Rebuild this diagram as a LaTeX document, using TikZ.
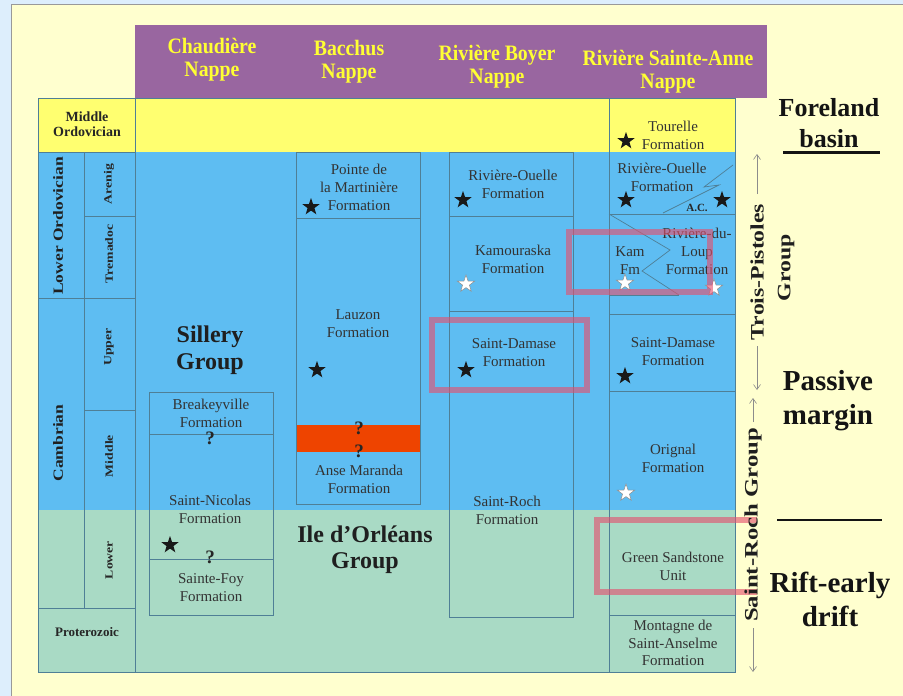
\documentclass[tikz,border=0pt]{standalone}
\usepackage{fontspec}
\setmainfont{Liberation Serif}
\newfontfamily\hdrfont[FakeStretch=0.9]{Liberation Serif}
\usetikzlibrary{shapes.geometric,arrows.meta}
\definecolor{frameblue}{HTML}{DDEEFC}
\definecolor{bgyellow}{HTML}{FFFFCF}
\definecolor{purp}{HTML}{9966A0}
\definecolor{hdrtext}{HTML}{FFFF33}
\definecolor{rowyellow}{HTML}{FFFF70}
\definecolor{blu}{HTML}{5EBDF2}
\definecolor{grn}{HTML}{A9DAC5}
\definecolor{linec}{HTML}{4F7F96}
\definecolor{redband}{HTML}{EE4400}
\definecolor{hlc}{HTML}{E4506E}
\tikzset{
 fm/.style={font=\fontsize{15}{18}\selectfont, text=black!80, align=center, inner sep=0pt},
 grp/.style={font=\bfseries\fontsize{24}{27}\selectfont, text=black!88, align=center, inner sep=0pt},
 hdr/.style={font=\hdrfont\bfseries\fontsize{22}{23}\selectfont, text=hdrtext, align=center, inner sep=0pt},
 big/.style={font=\bfseries\fontsize{29}{34}\selectfont, text=black!92, align=center, inner sep=0pt},
 blackstar/.style={star, star points=5, star point ratio=2.5, fill=black!90, minimum size=18pt, inner sep=0pt},
 whitestar/.style={star, star points=5, star point ratio=2.5, fill=white, draw=black!45, line width=0.5pt, minimum size=18pt, inner sep=0pt},
 qm/.style={font=\bfseries\fontsize{19}{19}\selectfont, text=black!85, inner sep=0pt},
 tl/.style={draw=linec, line width=0.7pt},
 hl/.style={draw=hlc, draw opacity=0.62, line width=6.5pt},
 rotsmall/.style={rotate=90, inner sep=0pt, font=\bfseries\fontsize{11}{11}\selectfont, text=black!85},
 rotmid/.style={rotate=90, inner sep=0pt, font=\bfseries\fontsize{14}{14}\selectfont, text=black!88},
 rotbig/.style={rotate=90, inner sep=0pt, font=\bfseries\fontsize{19}{19}\selectfont, text=black!88},
 garrow/.style={draw=black!45, line width=0.6pt, -{Straight Barb[length=5pt,width=7pt]}},
}
\begin{document}
\begin{tikzpicture}[x=1pt,y=-1pt]
\useasboundingbox (0,0) rectangle (903,696);
% background
\fill[frameblue] (0,0) rectangle (903,696);
\fill[bgyellow] (11,4) rectangle (903,696);
\draw[black!40, line width=0.8pt] (11,696) -- (11,4) -- (903,4);

% header
\fill[purp] (135,25) rectangle (767,98);
\node[hdr] (h1) at (212,60) {Chaudière\\Nappe};
\node[hdr] (h2) at (349,62) {Bacchus\\Nappe};
\node[hdr] (h3) at (497,67) {Rivière Boyer\\Nappe};
\node[hdr] (h4) at (668,72) {Rivière Sainte-Anne\\Nappe};

% table fills
\fill[rowyellow] (38,98) rectangle (735,152);
\fill[blu] (38,152) rectangle (735,510);
\fill[grn] (38,510) rectangle (735,672);
\fill[redband] (296,425) rectangle (420,452);

% table lines
\draw[tl] (38,98) rectangle (735,672);
\draw[tl] (135,98) -- (135,672);
\draw[tl] (84,152) -- (84,608);
\draw[tl] (38,152) -- (135,152);
\draw[tl] (84,216) -- (135,216);
\draw[tl] (38,298) -- (135,298);
\draw[tl] (84,410) -- (135,410);
\draw[tl] (38,608) -- (135,608);
% Chaudiere boxes
\draw[tl] (149,392) rectangle (273,615);
\draw[tl] (149,434) -- (273,434);
\draw[tl] (149,559) -- (273,559);
% Bacchus boxes
\draw[tl] (296,152) rectangle (420,504);
\draw[tl] (296,218) -- (420,218);
% Boyer boxes
\draw[tl] (449,152) rectangle (573,617);
\draw[tl] (449,216) -- (573,216);
\draw[tl] (449,311) -- (573,311);
% Sainte-Anne column
\draw[tl] (609,98) -- (609,672);
\draw[tl] (609,214) -- (735,214);
\draw[tl] (609,314) -- (735,314);
\draw[tl] (609,391) -- (735,391);
\draw[tl] (609,615) -- (735,615);
\draw[tl] (609,295) -- (679,295);
\draw[tl] (733,165) -- (704,187) -- (719,185) -- (663,213);
\draw[tl] (609,214) -- (670,250) -- (642,271) -- (679,295);

% left labels
\node[font=\bfseries\fontsize{14}{15}\selectfont, text=black!85, align=center, inner sep=0pt] (mo) at (87,124) {Middle\\Ordovician};
\node[font=\bfseries\fontsize{13}{13}\selectfont, text=black!85, inner sep=0pt] (pz) at (87,632) {Proterozoic};
\node[rotmid] (lo) at (58,226) {\scalebox{1.25}[1]{Lower Ordovician}};
\node[rotmid] (ca) at (58,443) {\scalebox{1.25}[1]{Cambrian}};
\node[rotsmall] (ar) at (109,184) {\scalebox{1.25}[1]{Arenig}};
\node[rotsmall] (tr) at (109,254) {\scalebox{1.25}[1]{Tremadoc}};
\node[rotsmall] (up) at (109,347) {\scalebox{1.25}[1]{Upper}};
\node[rotsmall] (mi) at (109,456) {\scalebox{1.25}[1]{Middle}};
\node[rotsmall] (lw) at (109,560) {\scalebox{1.25}[1]{Lower}};

% Chaudiere
\node[grp] (sil) at (210,350) {Sillery\\Group};
\node[fm] (brk) at (211,413) {Breakeyville\\Formation};
\node[qm] (q1) at (210,438) {?};
\node[fm] (snc) at (210,509) {Saint-Nicolas\\Formation};
\node[blackstar] (s1) at (170,545) {};
\node[qm] (q2) at (210,557) {?};
\node[fm] (sfy) at (211,588) {Sainte-Foy\\Formation};

% Bacchus
\node[fm] (pdm) at (359,187) {Pointe de\\la Martinière\\Formation};
\node[blackstar] (s2) at (311,207) {};
\node[fm] (lau) at (358,324) {Lauzon\\Formation};
\node[blackstar] (s3) at (317,370) {};
\node[qm] (q3) at (359,428) {?};
\node[qm] (q4) at (359,451) {?};
\node[fm] (anm) at (359,479) {Anse Maranda\\Formation};
\node[grp, font=\bfseries\fontsize{24}{26}\selectfont] (ile) at (365,550) {Ile d’Orléans\\Group};

% Riviere Boyer
\node[fm] (rob) at (513,184) {Rivière-Ouelle\\Formation};
\node[blackstar] (s4) at (463,200) {};
\node[fm] (kam) at (513,259) {Kamouraska\\Formation};
\node[whitestar] (s5) at (466,284) {};
\node[fm] (sdb) at (514,353) {Saint-Damase\\Formation};
\node[blackstar] (s6) at (466,370) {};
\node[fm] (sro) at (507,510) {Saint-Roch\\Formation};

% Riviere Sainte-Anne
\node[fm] (tou) at (673,135) {Tourelle\\Formation};
\node[blackstar] (s7) at (626,141) {};
\node[fm] (roa) at (662,177) {Rivière-Ouelle\\Formation};
\node[blackstar] (s8) at (626,200) {};
\node[blackstar] (s9) at (722,200) {};
\node[font=\bfseries\fontsize{11}{11}\selectfont, text=black!85, inner sep=0pt] (ac) at (697,208) {A.C.};
\node[fm] (kfm) at (630,261) {Kam\\Fm};
\node[fm] (rdl) at (697,251) {Rivière-du-\\Loup\\Formation};
\node[whitestar] (s10) at (625,283) {};
\node[whitestar] (s11) at (714,288) {};
\node[fm] (sda) at (673,352) {Saint-Damase\\Formation};
\node[blackstar] (s12) at (625,376) {};
\node[fm] (ori) at (673,458) {Orignal\\Formation};
\node[whitestar] (s13) at (626,493) {};
\node[fm] (gsu) at (673,566) {Green Sandstone\\Unit};
\node[fm, font=\fontsize{15}{17.5}\selectfont] (msa) at (673,643) {Montagne de\\Saint-Anselme\\Formation};

% highlight boxes
\draw[hl] (432,320) rectangle (587,390);
\draw[hl] (569,232) rectangle (710,292);
\draw[hl] (757,520) -- (597,520) -- (597,592) -- (757,592);

% right group labels and arrows
\node[rotbig] (tp) at (757,272) {\scalebox{1.25}[1]{Trois-Pistoles}};
\node[rotbig] (tpg) at (786,268) {\scalebox{1.25}[1]{Group}};
\node[rotbig] (srg) at (753,525) {\scalebox{1.3}[1]{Saint-Roch Group}};
\coordinate (a1s) at (757,194);
\coordinate (a1e) at (757,154);
\coordinate (a2s) at (757,346);
\coordinate (a2e) at (757,390);
\coordinate (a3s) at (753,422);
\coordinate (a3e) at (753,398);
\coordinate (a4s) at (753,628);
\coordinate (a4e) at (753,672);
\draw[garrow] (a1s) -- (a1e);
\draw[garrow] (a2s) -- (a2e);
\draw[garrow] (a3s) -- (a3e);
\draw[garrow] (a4s) -- (a4e);

% right setting labels
\node[big, font=\bfseries\fontsize{26}{31}\selectfont] (fb) at (829,123) {Foreland\\basin};
\coordinate (l1a) at (783,152);
\coordinate (l1b) at (880,152);
\draw[line width=3pt, black!92] (l1a) -- (l1b);
\node[big] (pm) at (828,401) {Passive\\margin};
\coordinate (l2a) at (777,520);
\coordinate (l2b) at (882,520);
\draw[line width=2.5pt, black!92] (l2a) -- (l2b);
\node[big] (rd) at (830,599) {Rift-early\\drift};
\end{tikzpicture}
\end{document}
